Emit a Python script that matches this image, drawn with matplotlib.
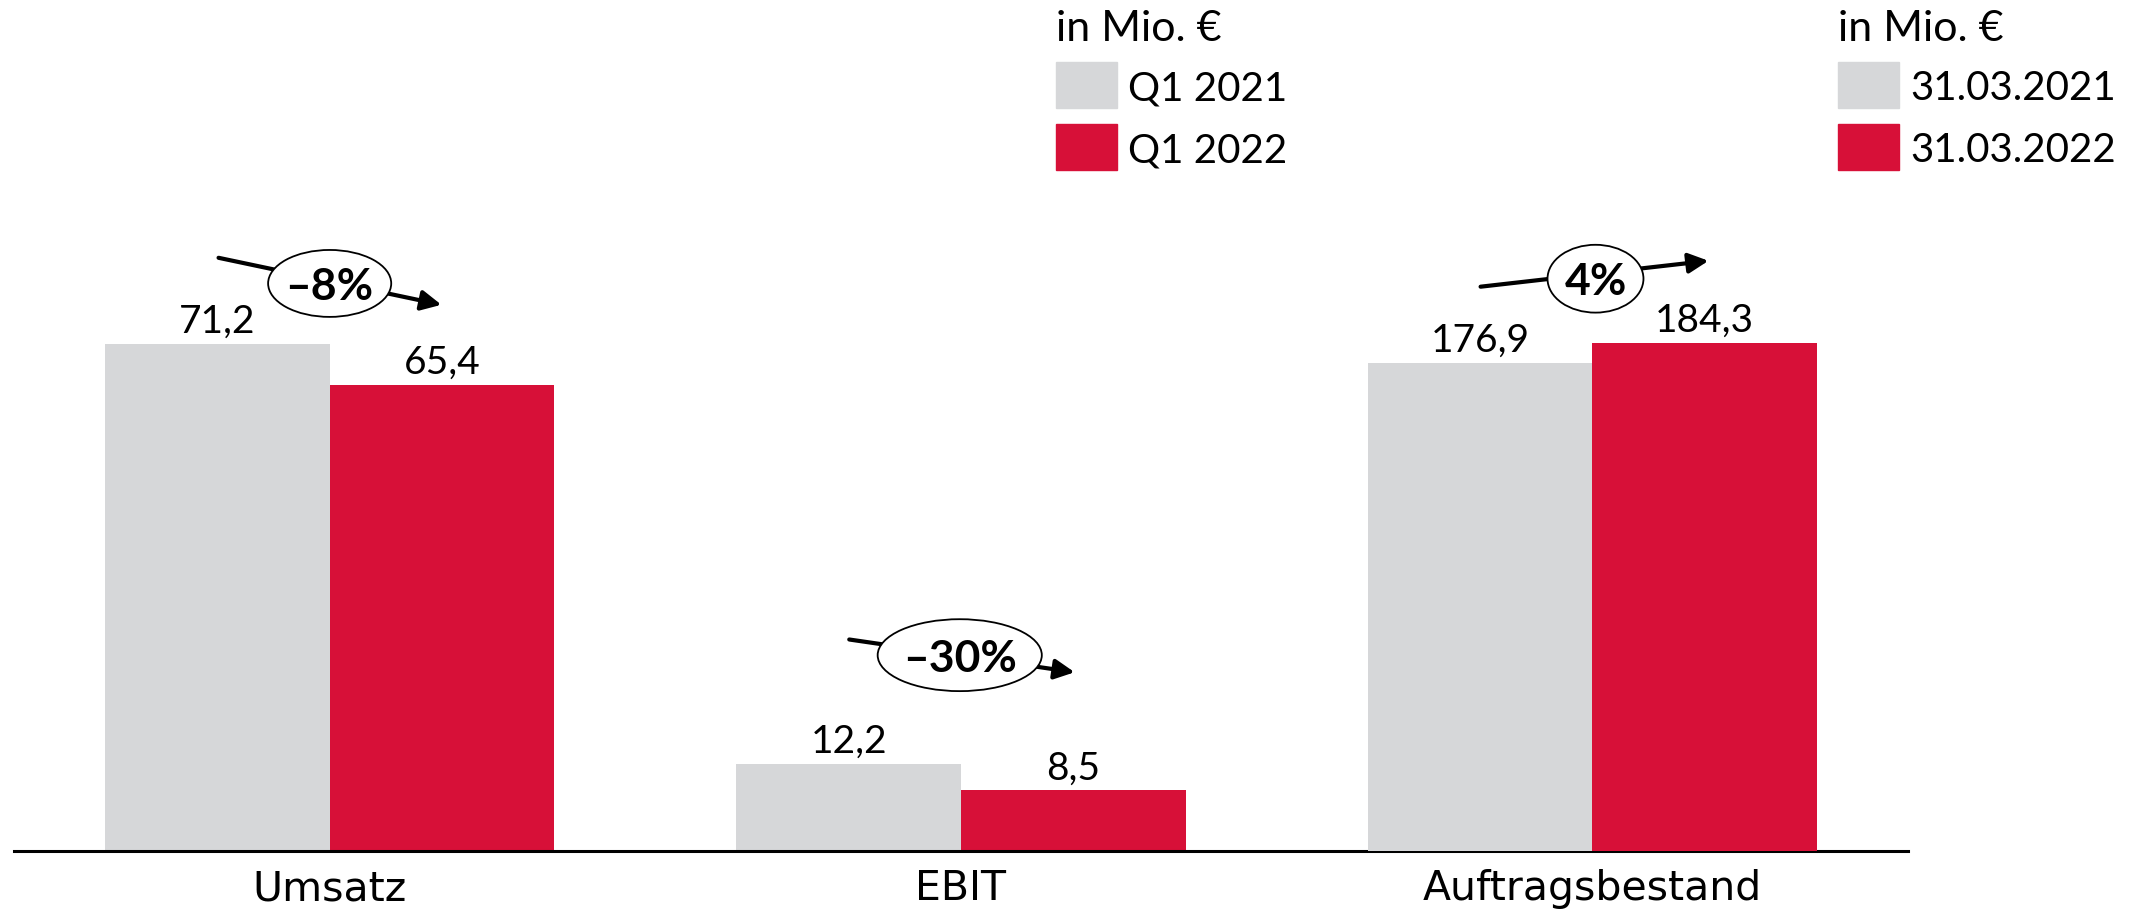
import matplotlib
matplotlib.use('Agg')
import matplotlib.pyplot as plt
from matplotlib.patches import Ellipse, Rectangle

plt.rcParams['font.family'] = ['Lato', 'DejaVu Sans']

# values in Mio. EUR
categories = ['Umsatz', 'EBIT', 'Auftragsbestand']
prev_values = [71.2, 12.2, 176.9]      # Q1 2021 / 31.03.2021
curr_values = [65.4, 8.5, 184.3]       # Q1 2022 / 31.03.2022
changes = ['–8%', '–30%', '4%']

legend_left = ['Q1 2021', 'Q1 2022']
legend_right = ['31.03.2021', '31.03.2022']

grey = '#D6D7D9'
red = '#D71038'

W, H = 2145, 915
fig = plt.figure(figsize=(W / 100, H / 100), dpi=100)

# main axes (Umsatz, EBIT) + second scale for Auftragsbestand
ax = fig.add_axes([14 / W, 64 / H, (1908 - 14) / W, 851 / H])
ax2 = ax.twinx()
ax.set_xlim(-0.5, 2.5)
ax.set_ylim(0, 119.5)
ax2.set_ylim(0, 308.7)

bw = 0.356
for i in range(3):
    a = ax if i < 2 else ax2
    a.bar(i - bw / 2, prev_values[i], bw, color=grey, zorder=2)
    a.bar(i + bw / 2, curr_values[i], bw, color=red, zorder=2)
    for dx, v in ((-bw / 2, prev_values[i]), (bw / 2, curr_values[i])):
        a.annotate(f'{v:.1f}'.replace('.', ','), (i + dx, v), xytext=(0, 8),
                   textcoords='offset points', ha='center', va='baseline',
                   fontsize=28)

# change arrows with oval labels: (start, oval centre, tip, oval w, oval h)
arrows = [
    ((-0.176, 83.3), (0.0, 79.7), (0.177, 76.7), 0.195, 9.4),
    ((-0.177, 29.7), (-0.002, 27.5), (0.18, 25.1), 0.26, 10.1),
    ((-0.177, 204.7), (0.005, 207.6), (0.184, 214.1), 0.152, 24.6),
]
for i, (s, c, t, ew, eh) in enumerate(arrows):
    a = ax if i < 2 else ax2
    a.annotate('', xy=(i + t[0], t[1]), xytext=(i + s[0], s[1]),
               arrowprops=dict(arrowstyle='-|>,head_length=0.6,head_width=0.3',
                               lw=3, color='black', mutation_scale=20,
                               shrinkA=0, shrinkB=0), zorder=3)
    a.add_patch(Ellipse((i + c[0], c[1]), ew, eh, facecolor='white',
                        edgecolor='black', lw=1.3, zorder=4))
    a.text(i + c[0], c[1], changes[i], ha='center', va='center_baseline',
           fontsize=32, fontweight='bold', zorder=5)

ax.set_xticks(range(3))
ax.set_xticklabels(categories, fontsize=29.5, family=['DejaVu Sans'])
ax.tick_params(axis='x', length=0, pad=13)
ax.set_yticks([])
ax2.set_yticks([])
for a in (ax, ax2):
    for side in ('top', 'left', 'right'):
        a.spines[side].set_visible(False)
ax2.spines['bottom'].set_visible(False)
ax.spines['bottom'].set_linewidth(2.2)
ax.spines['bottom'].set_zorder(6)


def fx(px):
    return px / W


def fy(py):
    return 1 - py / H


# legends drawn by hand
for x0, labels in ((1056, legend_left), (1838, legend_right)):
    fig.text(fx(x0), fy(41), 'in Mio. €', fontsize=31, va='baseline')
    for j, (lab, col) in enumerate(zip(labels, (grey, red))):
        top = 62 + j * 62
        fig.add_artist(Rectangle((fx(x0), fy(top + 46)), 61 / W, 46 / H,
                                 transform=fig.transFigure, color=col))
        fig.text(fx(x0 + 72), fy(top + 38), lab, fontsize=29, va='baseline')

fig.savefig('out.png', dpi=100)
